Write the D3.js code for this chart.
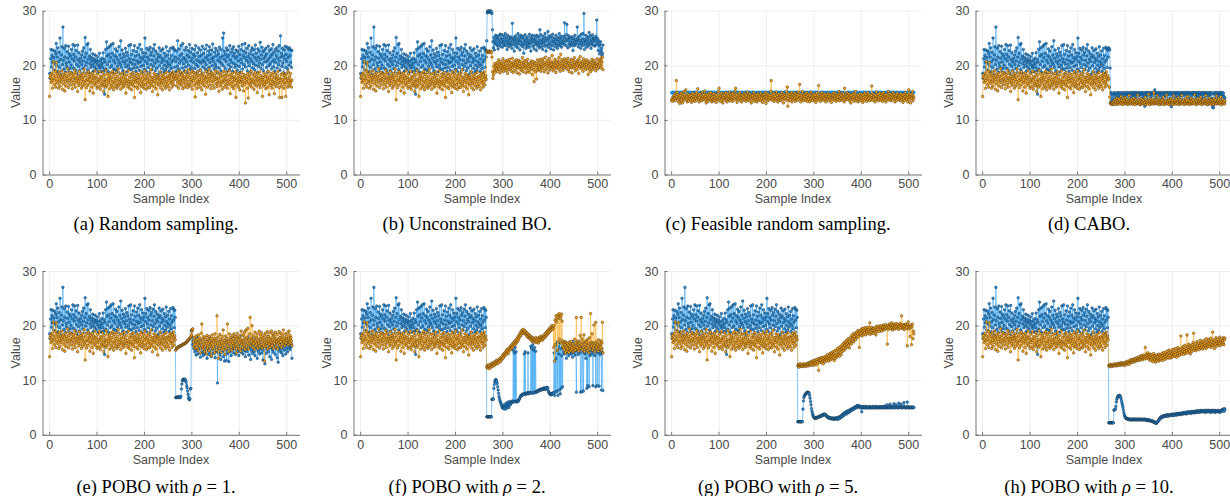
<!DOCTYPE html>
<html><head><meta charset="utf-8">
<script src="https://cdn.jsdelivr.net/npm/d3@7"></script>
<style>body{margin:0;background:#fff}svg{display:block}</style>
</head><body>
<svg id="chart" width="1230" height="496"></svg>
<script>
// All series values are in tenths of a unit (e.g. 185 = 18.5).
// Samples 1..266 (shared initial random samples, used by panels a, b, d–h)
const initBlue=[
185,176,212,229,197,218,205,228,192,214,
203,226,190,221,240,199,215,232,188,207,
224,196,250,211,183,219,234,201,270,209,
193,231,215,187,236,204,198,225,213,189,
235,206,221,194,217,200,229,186,212,238,
195,220,208,236,191,215,227,202,184,237,
210,198,223,190,206,213,181,219,201,226,
194,208,232,187,215,251,199,222,205,238,
192,240,211,186,217,203,229,196,214,208,
200,221,189,212,205,197,219,208,193,210,
202,216,187,207,198,222,195,209,201,188,
213,204,196,223,190,211,147,206,229,193,
243,217,201,232,188,220,207,235,196,214,
238,199,222,186,240,209,193,218,204,230,
191,215,226,198,210,187,234,205,219,201,
245,196,213,228,190,207,221,184,216,203,
231,197,209,224,188,218,200,236,194,212,
206,238,192,220,203,185,227,210,195,236,
201,217,189,225,208,196,232,204,219,191,
238,206,214,198,229,187,211,223,200,216,
193,250,207,222,189,231,203,215,196,228,
210,186,233,219,201,224,192,209,230,198,
217,238,204,190,226,211,195,221,207,183,
215,232,199,218,187,227,205,213,194,230,
209,188,222,200,216,192,234,207,197,219,
203,226,189,212,200,231,194,218,206,185,
233,210,230,196,228,215];
const initOrange=[
143,178,182,169,175,186,158,172,207,181,
165,176,189,160,205,171,184,167,179,158,
188,173,162,181,169,177,190,156,174,183,
166,179,153,186,171,162,180,175,194,168,
159,182,173,187,164,176,170,185,157,178,
183,165,172,191,160,177,186,168,175,152,
180,171,163,189,176,167,182,158,174,185,
162,178,170,193,166,137,181,172,159,186,
175,164,188,171,179,153,183,168,177,160,
186,172,149,181,166,176,190,163,178,170,
158,184,169,175,161,189,173,156,180,166,
177,162,187,170,152,182,165,174,160,191,
171,163,185,143,176,168,181,157,173,186,
164,178,160,189,170,155,183,167,176,161,
187,172,158,180,165,193,162,174,169,184,
156,177,166,185,171,160,179,163,188,168,
175,149,182,167,173,161,190,170,158,178,
165,184,171,155,179,166,187,162,174,141,
181,169,176,160,185,172,157,178,167,183,
163,175,150,188,170,161,179,166,184,158,
173,190,164,177,156,182,168,175,160,186,
171,159,180,166,192,163,174,152,178,169,
185,161,172,179,157,183,167,175,146,180,
164,177,170,188,159,173,166,181,155,176,
168,184,162,174,178,158,187,170,165,179,
161,176,182,155,172,186,167,178,160,183,
170,188,164,176,181,174];

// Samples 267..512 per method
const aBlue2=[
207,189,226,198,245,212,193,230,204,218,
186,236,209,221,195,240,203,214,190,228,
211,197,233,206,219,185,227,200,215,238,
192,224,208,196,231,213,188,220,205,229,
194,217,236,201,210,187,223,198,232,207,
216,191,228,204,219,184,235,209,197,222,
206,230,193,214,201,237,189,218,210,226,
196,234,205,220,188,228,212,199,239,207,
215,193,224,202,231,197,218,186,227,209,
221,195,233,206,214,190,229,203,217,250,
199,259,211,226,194,220,207,232,188,215,
228,201,219,192,236,210,197,224,205,230,
189,217,234,203,222,196,213,228,200,216,
191,225,208,235,198,220,187,229,211,204,
238,193,218,226,201,214,240,197,223,209,
231,190,216,205,236,199,221,212,188,227,
207,232,195,219,203,229,192,214,237,200,
222,209,186,230,215,198,226,204,242,211,
194,219,233,201,225,190,213,228,206,217,
231,196,221,208,188,235,212,199,227,203,
216,230,193,220,207,238,197,224,210,189,
229,205,218,232,195,213,226,201,236,208,
191,254,215,222,198,231,204,217,186,228,
211,235,196,220,207,233,193,214,229,200,
232,218,205,228,196,227];
const aOrange2=[
176,185,162,179,169,190,158,174,182,166,
188,171,163,181,175,157,186,168,179,160,
173,189,165,177,183,159,170,192,164,178,
185,161,174,168,190,156,180,172,187,163,
176,142,184,167,179,158,188,171,165,182,
174,160,191,169,177,155,183,166,186,172,
162,180,175,147,189,168,178,160,184,171,
193,164,176,183,157,187,170,179,163,185,
172,158,181,174,190,166,177,161,188,169,
175,152,184,167,179,162,186,171,156,180,
168,189,173,160,182,176,164,187,170,158,
181,172,165,190,174,148,183,167,178,161,
186,170,157,179,175,163,188,141,172,184,
166,177,160,185,171,155,180,168,174,187,
162,178,170,153,183,165,176,131,181,169,
174,158,186,140,177,167,182,163,172,189,
160,175,168,184,171,156,180,166,187,173,
162,179,150,185,170,176,164,188,159,174,
181,167,173,143,178,162,186,171,165,180,
157,183,169,176,160,189,172,146,179,166,
185,163,174,158,181,170,187,165,148,177,
169,184,161,175,180,166,189,172,159,141,
176,168,183,162,141,174,186,170,158,181,
165,177,143,184,169,175,160,188,172,163,
179,167,185,171,160,173];

const bBlue2=[
245,296,299,298,300,297,299,298,300,296,
298,295,265,243,232,251,228,246,239,255,
241,252,236,248,230,254,244,238,257,235,
249,242,256,233,247,240,253,237,245,258,
236,250,243,229,255,239,246,234,251,241,
252,237,248,231,277,244,238,251,226,247,
240,254,235,249,243,232,258,239,246,252,
228,244,255,237,250,241,234,253,222,247,
238,256,243,231,249,236,252,240,245,233,
257,239,247,226,251,242,255,235,248,244,
230,254,238,249,243,227,255,241,236,252,
245,232,265,239,256,234,247,242,229,253,
240,248,235,258,244,226,251,237,246,262,
233,249,241,254,238,230,252,245,236,257,
243,228,250,240,247,234,255,239,246,231,
251,237,244,258,236,249,241,253,233,247,
240,242,253,238,278,250,244,236,256,275,
248,232,245,254,239,251,235,243,249,237,
252,241,227,249,245,236,255,238,247,240,
243,270,250,234,246,253,239,245,231,257,
240,248,236,258,242,295,229,247,238,255,
244,233,249,240,252,236,260,245,239,254,
231,248,242,256,237,250,244,250,235,246,
253,238,283,241,249,227,245,236,221,238,
243,226,231,218,222,237];
const bOrange2=[
225,226,224,225,223,226,225,224,226,225,
223,215,188,176,182,198,191,203,187,196,
200,193,205,189,198,210,194,202,186,207,
199,191,204,195,212,188,201,197,208,193,
203,190,196,209,185,200,206,192,211,198,
194,205,189,201,213,196,187,204,199,208,
191,202,197,210,186,205,195,200,209,184,
198,207,193,203,190,214,197,188,205,201,
209,194,199,186,206,196,211,190,202,198,
187,204,200,193,208,195,183,201,207,192,
170,199,205,188,203,175,196,210,191,200,
206,193,198,211,189,202,197,207,194,212,
199,188,205,201,215,192,203,196,209,186,
204,198,213,191,200,207,195,202,218,197,
190,206,201,194,211,199,187,205,196,208,
202,193,214,198,206,189,220,200,195,210,
203,191,207,198,212,196,201,209,194,205,
199,213,192,204,188,207,200,196,211,197,
186,203,209,195,201,214,198,190,206,202,
193,208,199,211,185,204,197,216,201,194,
207,199,203,189,212,196,205,200,208,192,
201,210,195,204,183,199,207,193,202,188,
205,197,211,192,200,206,195,209,198,203,
190,204,199,212,194,201,196,208,203,210,
195,213,199,206,215,192];

// Feasible random sampling: all 512 samples
const cBlue=[
150,149,150,151,150,150,149,150,151,150,149,150,150,151,150,149,
150,150,151,149,150,150,150,149,151,150,150,149,150,150,151,150,
149,150,150,150,151,150,149,150,150,151,150,150,149,150,150,151,
150,151,150,149,150,150,150,151,150,149,150,150,151,150,149,150,
150,149,151,150,150,150,149,150,151,150,150,149,150,151,150,150,
151,150,149,150,150,151,150,150,149,150,151,150,150,149,150,150,
150,150,151,150,149,150,150,151,150,150,149,150,151,150,150,149,
149,150,150,151,150,150,149,150,150,151,150,149,150,150,151,150,
150,151,149,150,150,149,151,150,150,150,149,150,151,150,150,150,
150,149,150,150,151,150,150,149,150,151,150,150,149,150,151,150,
151,150,150,149,150,150,151,150,149,150,150,151,150,150,149,150,
150,150,149,151,150,150,150,149,151,150,150,150,149,150,151,150,
149,150,151,150,150,149,150,150,151,150,149,150,150,151,150,150,
150,151,150,150,149,150,151,150,150,149,150,151,150,150,149,151,
150,149,150,151,150,150,149,151,150,150,150,149,150,150,151,150,
151,150,149,150,150,151,150,150,150,149,151,150,150,149,150,150,
150,150,151,150,149,150,150,151,150,150,149,150,151,150,150,149,
149,151,150,150,150,149,150,150,151,150,150,149,150,151,150,150,
150,150,149,151,150,150,151,150,149,150,150,150,151,149,150,150,
151,149,150,150,151,150,150,149,150,150,151,150,149,150,150,151,
150,150,150,149,151,150,149,150,150,151,150,150,150,149,151,150,
149,150,151,150,150,150,149,151,150,150,149,150,150,151,150,149,
150,151,150,149,150,151,150,150,149,150,150,151,150,150,149,150,
150,149,150,150,151,149,150,150,151,150,149,150,150,150,151,150,
151,150,150,149,150,150,151,149,150,150,150,151,150,149,150,150,
150,150,149,150,151,150,150,150,149,151,150,150,149,150,150,151,
149,150,150,151,150,149,150,151,150,150,150,149,151,150,150,150,
150,151,149,150,150,150,151,150,149,150,151,150,150,149,150,150,
150,149,150,151,150,150,149,150,150,151,150,150,151,150,149,150,
151,150,150,150,149,151,150,150,150,149,150,151,150,150,150,149,
150,150,151,149,150,150,150,151,150,149,150,150,150,151,149,150,
149,150,150,150,151,150,149,150,151,150,150,149,150,150,151,150];
const cOrange=[
136,139,134,142,137,145,140,148,135,141,
172,143,150,138,146,133,141,130,144,137,
149,135,142,131,147,139,152,136,144,140,
155,138,143,133,148,141,135,146,139,143,
137,145,132,140,149,136,143,138,147,134,
142,139,150,136,144,157,140,146,133,141,
148,137,144,139,135,151,142,138,146,140,
153,136,143,131,147,139,145,134,141,149,
138,144,136,150,140,133,146,142,137,148,
135,143,139,147,132,145,138,141,152,136,
158,140,146,134,143,149,137,144,131,141,
147,138,145,136,150,142,139,133,148,140,
144,137,151,135,143,146,139,142,134,149,
141,136,147,143,153,158,138,145,132,140,
148,137,144,139,150,135,142,146,133,141,
145,138,143,149,136,140,147,134,144,139,
151,137,142,146,135,148,140,143,131,145,
139,144,136,150,141,134,147,138,142,146,
133,140,148,137,145,139,143,135,149,141,
138,146,132,144,140,147,136,142,150,130,
143,139,148,135,141,146,137,144,140,152,
172,138,145,136,142,149,134,147,140,143,
137,151,139,145,133,141,148,136,144,140,
146,135,142,150,138,143,131,147,139,145,
141,136,152,144,160,125,139,148,135,143,
147,137,142,150,133,141,146,138,144,140,
149,134,143,139,147,136,142,151,138,145,
165,140,133,147,144,137,152,141,135,146,
139,143,148,136,142,150,134,145,140,138,
147,133,144,139,151,136,142,146,135,143,
140,148,137,145,132,141,149,138,144,136,
163,142,139,147,134,143,140,150,137,145,
141,136,148,139,144,133,146,140,142,138,
149,135,143,147,137,141,145,132,140,146,
138,144,150,136,142,139,148,134,145,141,
143,137,147,152,135,140,146,138,144,149,
136,142,139,147,133,158,141,145,137,143,
150,138,144,140,148,135,142,146,131,139,
145,141,137,149,143,134,147,140,152,136,
142,139,146,133,144,141,137,148,135,143,
140,147,138,132,145,141,136,149,143,139,
146,134,142,150,137,144,140,147,135,143,
138,145,162,141,136,148,142,139,146,133,
144,140,151,137,143,147,135,142,138,149,
141,136,145,139,148,134,143,150,137,142,
146,140,133,147,141,138,144,152,136,143,
139,148,142,135,146,141,137,150,144,140,
147,133,143,139,145,136,149,142,138,144,
140,146,135,143,148,137,141,145,132,139,
147,142,136,150,140,144,138,146,133,141,
155,137,143,148,131,142,146,139,152,135,
144,140];

const dBlue2=[
232,230,228,195,150,134,147,138,149,131,
145,136,150,133,148,140,146,129,150,137,
144,149,132,150,141,147,135,150,130,146,
149,138,145,150,133,148,142,150,136,147,
150,131,146,149,139,150,134,148,143,150,
130,147,150,137,149,144,150,132,146,150,
140,148,135,150,145,149,128,147,150,138,
146,150,131,148,142,150,125,147,136,150,
144,149,133,150,139,147,150,130,148,143,
150,136,149,145,150,134,147,155,141,150,
132,148,150,138,146,150,129,149,144,150,
135,147,150,140,148,133,150,145,149,131,
150,142,147,150,136,148,150,130,146,150,
139,149,124,147,150,134,148,143,150,137,
146,150,132,149,141,150,135,147,150,129,
148,144,150,138,147,150,133,149,145,150,
136,148,150,131,146,150,142,149,134,150,
147,139,150,130,148,145,150,137,149,150,
133,147,150,141,148,129,150,144,146,150,
136,149,150,132,147,143,150,138,148,150,
131,146,150,140,149,135,150,147,128,150,
144,148,137,150,133,149,146,150,139,123,
126,122,148,150,134,147,150,141,149,136,
150,145,132,148,150,138,147,150,130,146,
150,135,149,143,131,140];
const dOrange2=[
176,160,142,131,130,129,131,128,130,132,
129,134,130,137,128,133,131,140,129,135,
132,130,138,129,134,131,143,130,136,128,
133,139,130,135,129,141,132,130,137,131,
128,134,130,145,131,136,129,133,138,130,
135,129,132,140,130,134,128,137,131,133,
130,146,132,129,136,131,134,128,139,130,
133,131,137,129,135,130,132,142,128,134,
131,136,129,133,147,130,135,128,132,138,
130,134,129,136,131,150,133,129,137,130,
135,131,144,129,133,130,138,132,128,134,
131,137,129,135,130,142,132,128,136,131,
134,129,146,131,133,130,137,128,135,132,
130,139,129,133,131,136,128,144,132,130,
135,131,129,138,130,134,132,141,128,133,
130,136,131,129,145,132,134,130,137,128,
133,131,139,130,135,129,143,132,130,136,
131,128,134,140,130,133,129,137,131,135,
130,146,132,128,136,131,134,130,139,129,
133,131,137,130,142,132,128,135,131,134,
130,138,129,133,131,145,130,136,132,128,
134,131,140,130,133,129,137,132,130,135,
131,128,139,133,130,136,129,144,132,130,
135,131,138,129,133,130,142,132,128,134,
131,137,130,133,129,135];

const eBlue2=[
68,69,68,69,69,68,69,70,69,68,
69,70,84,93,99,101,102,101,100,102,
101,99,96,90,86,80,74,68,65,64,
66,84,85,190,192,178,165,172,158,168,
152,175,160,146,169,155,180,148,163,171,
157,166,142,174,159,150,168,161,145,176,
153,165,148,170,158,162,140,173,155,167,
147,160,178,151,164,143,170,156,161,149,
172,158,165,141,168,153,175,160,95,163,
150,171,157,146,166,138,174,161,152,168,
143,159,170,135,163,155,176,136,165,149,
171,158,134,167,152,174,160,145,169,156,
163,178,150,166,158,172,147,180,161,155,
170,153,168,145,176,159,164,182,151,167,
157,173,148,165,179,154,169,143,162,175,
152,168,158,180,146,171,160,165,138,173,
155,167,149,176,161,152,170,145,164,178,
158,166,140,172,153,163,175,148,169,157,
174,150,165,160,137,171,155,168,130,162,
176,149,167,158,181,152,164,170,143,175,
160,168,138,173,156,182,151,166,162,177,
147,170,158,165,141,174,133,161,168,153,
178,157,166,150,172,160,145,169,176,155,
163,171,148,167,158,174,152,165,170,160,
168,156,173,161,166,140];
const eOrange2=[
155,157,158,159,160,160,161,161,162,162,
163,163,164,164,165,165,166,166,167,167,
168,168,169,170,171,172,173,174,175,176,
177,178,180,183,190,193,194,170,162,178,
165,158,172,181,160,175,168,155,183,170,
163,177,150,169,186,203,161,174,157,180,
166,152,178,163,171,148,182,159,175,167,
154,180,170,162,176,145,168,183,158,173,
161,177,150,185,166,172,155,218,164,179,
140,170,158,184,163,175,151,168,180,160,
192,156,173,165,147,181,169,158,176,203,
162,171,152,185,167,178,160,174,155,182,
168,176,163,185,158,171,180,165,150,177,
186,162,173,157,181,168,175,153,190,166,
172,159,183,170,164,188,156,175,192,161,
178,168,195,157,174,166,185,215,163,177,
170,200,160,182,167,174,156,188,171,163,
179,166,185,158,173,168,190,161,176,183,
165,187,159,172,178,164,182,135,170,186,
162,175,168,189,157,180,171,166,187,160,
177,169,190,163,174,185,158,181,167,172,
188,161,176,170,184,157,173,168,189,164,
178,171,186,160,175,182,166,192,170,177,
163,185,172,168,180,174,187,165,176,190,
170,182,167,178,172,163];

const fBlue2=[
33,33,33,33,33,33,33,33,33,33,
33,65,65,66,65,85,92,97,100,101,
100,98,94,88,82,76,70,66,62,60,
57,55,52,50,49,48,52,55,50,47,
53,58,51,49,56,60,54,50,57,61,
55,58,60,59,62,60,155,61,150,60,
160,61,152,62,60,61,63,62,64,66,
68,70,72,71,73,74,73,75,74,148,
75,152,74,76,75,77,76,150,75,77,
76,78,77,162,76,158,77,165,76,155,
78,160,77,153,79,78,80,79,81,80,
82,81,83,82,84,83,82,84,83,85,
84,86,85,83,84,86,85,87,84,86,
80,78,76,75,74,73,75,74,76,75,
77,76,150,72,165,78,140,170,80,155,
72,162,148,82,168,75,158,85,145,170,
88,160,152,165,148,170,155,162,140,158,
167,150,161,145,156,170,152,163,148,159,
166,142,157,171,151,160,146,164,155,78,
168,153,160,147,162,156,171,150,78,158,
164,79,155,161,80,152,167,148,158,140,
163,85,156,90,165,151,88,160,145,166,
154,162,148,158,90,169,152,157,145,163,
88,155,160,90,150,158,165,89,153,147,
162,156,82,158,150,81];
const fOrange2=[
125,122,127,124,128,125,121,127,129,124,
127,131,125,130,128,133,127,132,129,135,
131,136,130,134,137,132,138,135,140,134,
141,137,143,139,146,141,148,144,150,146,
152,147,155,150,157,153,149,158,155,161,
156,163,158,165,160,167,162,169,164,171,
166,173,168,175,170,178,173,181,176,184,
180,187,182,190,185,192,187,193,189,186,
191,185,189,183,187,180,186,179,184,177,
182,176,181,174,179,172,178,171,177,174,
170,176,172,178,169,175,171,177,173,168,
175,179,172,177,174,181,176,173,179,176,
181,177,184,179,186,181,188,183,190,185,
192,187,194,189,196,191,198,193,200,195,
194,160,200,135,210,165,218,206,212,155,
215,220,170,222,175,213,218,168,221,208,
162,172,158,168,155,165,150,170,160,153,
167,157,164,151,169,159,162,154,171,160,
156,166,152,163,158,175,161,155,168,215,
160,172,157,165,153,168,162,182,158,215,
165,176,155,170,160,183,152,166,161,172,
158,169,154,175,163,150,167,178,157,222,
170,162,185,155,166,159,201,164,152,168,
206,160,171,157,165,153,174,162,158,167,
160,172,155,168,206,150];

const gBlue2=[
24,24,24,24,24,24,24,24,24,24,
24,47,62,68,71,73,74,75,76,77,
78,78,78,77,76,72,67,61,55,48,
43,39,36,34,32,31,30,31,30,31,
32,31,32,33,32,33,34,33,35,34,
35,36,35,37,36,38,37,38,36,37,
35,34,33,32,33,31,32,30,31,30,
31,29,30,31,29,30,28,30,29,31,
30,29,31,28,30,32,29,31,33,30,
34,32,35,33,37,34,38,36,40,37,
41,39,42,38,43,40,44,42,41,45,
43,46,44,47,45,48,46,49,47,50,
48,51,49,52,50,53,51,54,52,51,
53,50,52,49,51,42,50,52,51,49,
50,51,49,52,50,51,50,49,51,50,
50,52,49,50,51,50,49,51,50,52,
50,49,51,50,50,52,49,51,50,50,
51,49,50,52,50,51,49,50,51,50,
52,50,49,51,50,53,50,49,51,55,
50,51,49,52,50,56,50,51,49,50,
52,50,51,57,50,49,51,55,50,52,
50,51,49,58,50,52,50,51,56,50,
49,51,50,52,59,50,51,50,49,51,
50,60,50,51,50,49,51,50,50,51,
50,49,50,51,50,50];
const gOrange2=[
127,125,129,124,128,130,126,128,125,127,
129,125,128,130,126,127,129,125,130,128,
127,131,126,129,132,128,133,127,130,134,
129,135,131,127,136,132,130,137,133,128,
138,134,131,139,118,135,140,133,137,141,
132,138,142,135,130,140,137,143,134,139,
144,136,141,147,138,135,145,140,149,137,
143,150,139,146,152,141,148,136,154,145,
140,155,148,143,158,146,152,160,144,156,
150,162,147,158,165,153,160,168,155,163,
170,158,166,173,161,168,176,164,171,159,
175,168,179,166,182,172,177,185,170,180,
176,186,174,183,188,178,185,191,180,187,
160,190,183,192,186,194,181,189,195,185,
192,187,196,183,194,190,188,197,185,193,
189,196,205,184,192,190,197,186,194,191,
186,195,192,188,197,183,193,199,189,195,
192,198,189,195,200,193,197,190,199,194,
196,201,192,198,194,202,195,199,197,166,
200,193,198,203,196,201,194,199,205,197,
192,200,196,203,198,194,201,197,204,199,
195,202,197,193,200,198,204,196,201,218,
199,194,202,196,200,193,198,203,195,201,
197,163,202,207,194,199,196,180,201,197,
165,198,203,176,190,185];

const hBlue2=[
22,22,22,22,22,22,22,22,22,22,
22,45,46,46,47,52,60,65,68,70,
71,72,72,72,71,69,66,62,58,54,
50,45,40,36,34,32,31,30,29,30,
29,28,29,28,29,27,28,29,28,27,
28,29,27,28,29,28,27,29,28,28,
27,29,28,27,28,29,28,27,28,29,
28,27,28,28,27,29,28,27,28,27,
28,26,27,28,26,27,26,27,25,26,
25,26,24,25,24,23,24,22,23,21,
22,21,23,24,25,27,26,29,31,30,
32,33,31,34,33,35,34,33,35,34,
36,34,35,37,35,34,36,35,37,36,
35,37,36,38,36,37,35,38,37,36,
38,37,39,36,38,37,39,38,37,39,
38,40,37,39,38,40,39,38,41,39,
40,39,41,38,40,42,39,41,40,42,
41,40,42,39,41,43,40,42,41,43,
42,40,43,41,42,44,41,43,42,44,
43,41,44,42,43,45,42,44,43,42,
44,42,45,43,41,44,43,45,42,44,
43,45,42,44,43,41,44,42,45,43,
44,42,43,45,41,44,43,42,44,43,
45,42,44,43,41,44,42,45,43,46,
44,47,45,43,48,46];
const hOrange2=[
127,125,128,126,129,127,125,128,126,129,
127,126,128,130,127,129,126,128,130,127,
129,131,128,130,127,132,129,131,128,130,
132,129,131,127,130,133,128,131,134,130,
132,135,131,129,134,136,132,138,133,135,
137,133,136,139,134,137,140,135,138,136,
141,137,139,143,136,140,138,142,145,139,
143,137,141,146,140,144,139,160,142,147,
140,144,150,141,146,138,143,148,136,142,
145,139,147,134,143,149,140,137,145,133,
141,146,136,143,139,148,135,142,146,138,
144,140,149,136,145,141,151,138,147,143,
150,139,146,153,142,148,144,155,140,149,
145,152,141,148,156,143,150,146,157,144,
151,147,158,142,153,149,160,145,155,150,
146,157,181,151,148,159,153,162,147,156,
152,164,149,158,154,183,150,161,156,166,
153,160,148,163,157,152,165,159,169,186,
155,162,158,167,154,161,171,157,164,160,
168,156,163,173,159,166,161,170,157,165,
172,160,167,163,175,158,169,164,176,161,
168,173,162,170,166,177,160,171,165,188,
163,174,169,158,172,166,178,162,170,167,
175,164,171,168,179,163,173,169,176,166,
172,168,178,165,174,177];

const xTicks=[0,100,200,300,400,500];
const yTicks=[0,10,20,30];
const captions=[
  ["(a) Random sampling."],
  ["(b) Unconstrained BO."],
  ["(c) Feasible random sampling."],
  ["(d) CABO."],
  ["(e) POBO with ","ρ"," = 1."],
  ["(f) POBO with ","ρ"," = 2."],
  ["(g) POBO with ","ρ"," = 5."],
  ["(h) POBO with ","ρ"," = 10."]
];
const series=[
  [initBlue.concat(aBlue2), initOrange.concat(aOrange2)],
  [initBlue.concat(bBlue2), initOrange.concat(bOrange2)],
  [cBlue, cOrange],
  [initBlue.concat(dBlue2), initOrange.concat(dOrange2)],
  [initBlue.concat(eBlue2), initOrange.concat(eOrange2)],
  [initBlue.concat(fBlue2), initOrange.concat(fOrange2)],
  [initBlue.concat(gBlue2), initOrange.concat(gOrange2)],
  [initBlue.concat(hBlue2), initOrange.concat(hOrange2)]
];

const svg=d3.select("#chart");
const colLeft=[42.5,353.5,664.5,975.5];
const rowTop=[10.7,271];
const plotW=257, plotH=163.8;
const blueLine="#35a2f4", blueFill="#1f8fe6", orangeLine="#ffb030", orangeFill="#ffa510";
const txt="#4a4a4a";

series.forEach((s,k)=>{
  const col=k%4,row=Math.floor(k/4);
  const L=colLeft[col],T=rowTop[row];
  const x=d3.scaleLinear().domain([-14,528]).range([0,plotW]);
  const y=d3.scaleLinear().domain([0,30]).range([plotH,0]);
  const g=svg.append("g").attr("transform",`translate(${L},${T})`);

  // grid
  g.append("g").attr("transform",`translate(0,${plotH})`)
    .call(d3.axisBottom(x).tickValues(xTicks).tickSize(-plotH).tickSizeOuter(0).tickFormat(""))
    .call(a=>{a.select(".domain").remove();a.selectAll("line").attr("stroke","#ebebeb").attr("stroke-width",0.8);});
  g.append("g")
    .call(d3.axisLeft(y).tickValues(yTicks).tickSize(-plotW).tickSizeOuter(0).tickFormat(""))
    .call(a=>{a.select(".domain").remove();a.selectAll("line").attr("stroke","#ebebeb").attr("stroke-width",0.8);});

  const line=d3.line().x((d,i)=>x(i+1)).y(d=>y(d/10));
  const draw=(vals,lc,fc,edge)=>{
    g.append("path").datum(vals).attr("d",line).attr("fill","none")
      .attr("stroke",lc).attr("stroke-width",0.6);
    g.append("g").selectAll("circle").data(vals).join("circle")
      .attr("cx",(d,i)=>x(i+1)).attr("cy",d=>y(d/10)).attr("r",1.3)
      .attr("fill",fc).attr("stroke",edge).attr("stroke-width",0.4);
  };
  draw(s[0],blueLine,blueFill,k===2?"#1f8fe6":"#1a1a1a");
  draw(s[1],orangeLine,orangeFill,"#1a1a1a");

  // axes
  const xa=g.append("g").attr("transform",`translate(0,${plotH})`)
    .call(d3.axisBottom(x).tickValues(xTicks).tickSize(-3).tickSizeOuter(0).tickPadding(5));
  const ya=g.append("g")
    .call(d3.axisLeft(y).tickValues(yTicks).tickSize(-3).tickSizeOuter(0).tickPadding(6));
  [xa,ya].forEach(a=>{
    a.select(".domain").attr("stroke","#666").attr("stroke-width",0.9);
    a.selectAll(".tick line").attr("stroke","#666").attr("stroke-width",0.9);
    a.selectAll("text").attr("fill",txt).attr("font-family","'Liberation Sans',Arial,sans-serif").attr("font-size",12.5);
  });

  g.append("text").attr("x",plotW/2).attr("y",plotH+29)
    .attr("text-anchor","middle").attr("fill",txt)
    .attr("font-family","'Liberation Sans',Arial,sans-serif").attr("font-size",12.5)
    .text("Sample Index");
  g.append("text").attr("transform",`translate(-27,${plotH/2}) rotate(-90)`)
    .attr("text-anchor","middle").attr("dy","0.35em").attr("fill",txt)
    .attr("font-family","'Liberation Sans',Arial,sans-serif").attr("font-size",12.5)
    .text("Value");

  const cap=g.append("text").attr("x",plotW/2-15).attr("y",row===0?219:222)
    .attr("text-anchor","middle").attr("fill","#000")
    .attr("font-family","'Liberation Serif','Times New Roman',serif").attr("font-size",18.5);
  captions[k].forEach((t,j)=>{
    cap.append("tspan").attr("font-style",j===1?"italic":"normal").text(t);
  });
});
</script>
</body></html>
